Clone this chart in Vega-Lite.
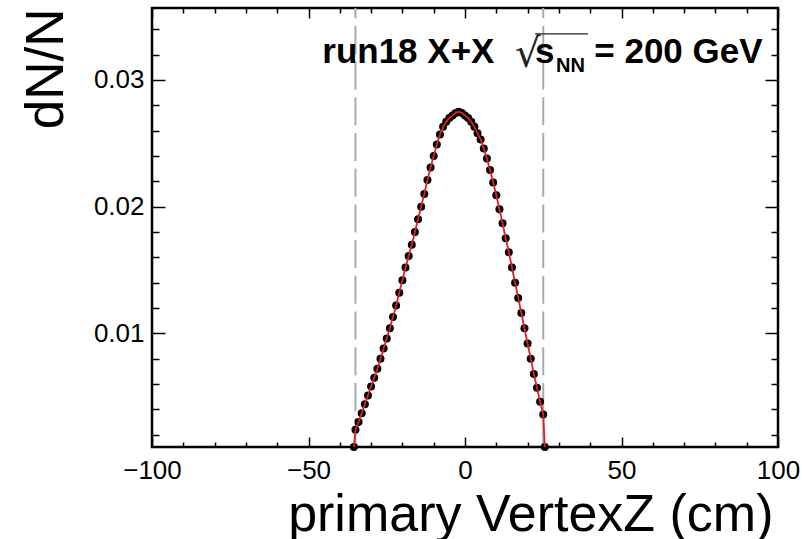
{
  "$schema": "https://vega.github.io/schema/vega-lite/v6.json",
  "width": 626,
  "height": 439,
  "autosize": {"type": "none"},
  "padding": {"left": 152, "top": 8, "right": 24, "bottom": 92},
  "background": "white",
  "config": {"view": {"stroke": "black", "strokeWidth": 2.5}, "font": "Liberation Sans"},
  "datasets": {
    "vz": [
      {"z": -35.5, "n": 0.00103},
      {"z": -35, "n": 0.0024}, {"z": -34, "n": 0.0030}, {"z": -33, "n": 0.0037}, {"z": -32, "n": 0.0044},
      {"z": -31, "n": 0.0051}, {"z": -30, "n": 0.0058}, {"z": -29, "n": 0.0065}, {"z": -28, "n": 0.0072},
      {"z": -27, "n": 0.0080}, {"z": -26, "n": 0.0088}, {"z": -25, "n": 0.0096}, {"z": -24, "n": 0.0104},
      {"z": -23, "n": 0.0113}, {"z": -22, "n": 0.0122}, {"z": -21, "n": 0.0132}, {"z": -20, "n": 0.0142},
      {"z": -19, "n": 0.0152}, {"z": -18, "n": 0.0161}, {"z": -17, "n": 0.0170}, {"z": -16, "n": 0.0180},
      {"z": -15, "n": 0.0190}, {"z": -14, "n": 0.0200}, {"z": -13, "n": 0.0210}, {"z": -12, "n": 0.0221},
      {"z": -11, "n": 0.0231}, {"z": -10, "n": 0.0240}, {"z": -9, "n": 0.0249}, {"z": -8, "n": 0.0257},
      {"z": -7, "n": 0.0263}, {"z": -6, "n": 0.0267}, {"z": -5, "n": 0.0270}, {"z": -4, "n": 0.0272},
      {"z": -3, "n": 0.0274}, {"z": -2, "n": 0.0275}, {"z": -1, "n": 0.0274}, {"z": 0, "n": 0.0272},
      {"z": 1, "n": 0.0270}, {"z": 2, "n": 0.0267}, {"z": 3, "n": 0.0263}, {"z": 4, "n": 0.0258},
      {"z": 5, "n": 0.0253}, {"z": 6, "n": 0.0246}, {"z": 7, "n": 0.0238}, {"z": 8, "n": 0.0229},
      {"z": 9, "n": 0.0219}, {"z": 10, "n": 0.0209}, {"z": 11, "n": 0.0198}, {"z": 12, "n": 0.0187},
      {"z": 13, "n": 0.0175}, {"z": 14, "n": 0.0164}, {"z": 15, "n": 0.0152}, {"z": 16, "n": 0.0140},
      {"z": 17, "n": 0.0128}, {"z": 18, "n": 0.0116}, {"z": 19, "n": 0.0104}, {"z": 20, "n": 0.0092},
      {"z": 21, "n": 0.0080}, {"z": 22, "n": 0.0068}, {"z": 23, "n": 0.0057}, {"z": 24, "n": 0.0046},
      {"z": 25, "n": 0.0036},
      {"z": 25.5, "n": 0.00103}
    ],
    "cuts": [{"cut": -35}, {"cut": 25}],
    "one": [{}]
  },
  "layer": [
    {
      "data": {"name": "cuts"},
      "mark": {"type": "rule", "color": "#aaaaaa", "strokeWidth": 2, "strokeDash": [28, 7.7], "strokeDashOffset": 17.8},
      "encoding": {
        "x": {"field": "cut", "type": "quantitative", "scale": {"domain": [-100, 100], "nice": false, "zero": false}, "axis": null}
      }
    },
    {
      "data": {"name": "vz"},
      "mark": {"type": "circle", "color": "black", "opacity": 1, "size": 64},
      "encoding": {
        "x": {
          "field": "z", "type": "quantitative",
          "scale": {"domain": [-100, 100], "nice": false, "zero": false},
          "axis": {
            "orient": "bottom",
            "values": [-100, -90, -80, -70, -60, -50, -40, -30, -20, -10, 0, 10, 20, 30, 40, 50, 60, 70, 80, 90, 100],
            "tickSize": {"condition": {"test": "datum.value % 50 === 0", "value": -10}, "value": -5},
            "labelExpr": "datum.value % 50 === 0 ? datum.label : ''",
            "labelFontSize": 26, "labelPadding": 20, "labelColor": "black", "labelFlush": false, "labelOverlap": false,
            "tickColor": "black", "tickWidth": 1.5, "domain": false, "grid": false,
            "title": "primary VertexZ (cm)", "titleFontSize": 52, "titleFontWeight": "normal", "titleColor": "black",
            "titleAnchor": "end", "titleAlign": "right", "titleX": 621, "titleY": 83, "titleBaseline": "alphabetic"
          }
        },
        "y": {
          "field": "n", "type": "quantitative",
          "scale": {"domain": [0.00103, 0.03568], "nice": false, "zero": false},
          "axis": {
            "orient": "left",
            "values": [0.002, 0.004, 0.006, 0.008, 0.01, 0.012, 0.014, 0.016, 0.018, 0.02, 0.022, 0.024, 0.026, 0.028, 0.03, 0.032, 0.034],
            "tickSize": {"condition": {"test": "abs(datum.value*100-round(datum.value*100)) < 1e-6", "value": -13}, "value": -7},
            "labelExpr": "abs(datum.value*100-round(datum.value*100)) < 1e-6 ? format(datum.value, '.2f') : ''",
            "labelFontSize": 26, "labelPadding": 21, "labelColor": "black", "labelOverlap": false, "labelFlush": false,
            "tickColor": "black", "tickWidth": 1.5, "domain": false, "grid": false,
            "title": "dN/N", "titleFontSize": 53, "titleFontWeight": "normal", "titleColor": "black",
            "titleAngle": -90, "titleAlign": "right", "titleBaseline": "alphabetic", "titleX": -90, "titleY": 0
          }
        }
      }
    },
    {
      "data": {"name": "vz"},
      "mark": {"type": "line", "color": "#dd2222", "strokeWidth": 1.8},
      "encoding": {
        "x": {
          "field": "z", "type": "quantitative",
          "scale": {"domain": [-100, 100], "nice": false, "zero": false},
          "axis": {
            "orient": "top",
            "values": [-100, -90, -80, -70, -60, -50, -40, -30, -20, -10, 0, 10, 20, 30, 40, 50, 60, 70, 80, 90, 100],
            "tickSize": {"condition": {"test": "datum.value % 50 === 0", "value": -10}, "value": -5},
            "labels": false, "tickColor": "black", "tickWidth": 1.5, "domain": false, "grid": false, "title": null
          }
        },
        "y": {
          "field": "n", "type": "quantitative",
          "scale": {"domain": [0.00103, 0.03568], "nice": false, "zero": false},
          "axis": {
            "orient": "right",
            "values": [0.002, 0.004, 0.006, 0.008, 0.01, 0.012, 0.014, 0.016, 0.018, 0.02, 0.022, 0.024, 0.026, 0.028, 0.03, 0.032, 0.034],
            "tickSize": {"condition": {"test": "abs(datum.value*100-round(datum.value*100)) < 1e-6", "value": -13}, "value": -7},
            "labels": false, "tickColor": "black", "tickWidth": 1.5, "domain": false, "grid": false, "title": null
          }
        }
      }
    },
    {
      "data": {"name": "one"},
      "mark": {"type": "text", "text": "run18 X+X", "fontSize": 35, "fontWeight": "bold", "align": "left", "baseline": "alphabetic", "color": "black"},
      "encoding": {
        "x": {"datum": -45.6, "type": "quantitative", "scale": {"domain": [-100, 100], "nice": false, "zero": false}, "axis": null},
        "y": {"datum": 0.03134, "type": "quantitative", "scale": {"domain": [0.00103, 0.03568], "nice": false, "zero": false}, "axis": null}
      }
    },
    {
      "data": {"name": "one"},
      "mark": {"type": "text", "text": "√", "font": "DejaVu Sans", "fontSize": 40, "fontWeight": "normal", "align": "left", "baseline": "alphabetic", "color": "#222222"},
      "encoding": {
        "x": {"datum": 16.0, "type": "quantitative", "scale": {"domain": [-100, 100], "nice": false, "zero": false}, "axis": null},
        "y": {"datum": 0.03103, "type": "quantitative", "scale": {"domain": [0.00103, 0.03568], "nice": false, "zero": false}, "axis": null}
      }
    },
    {
      "data": {"name": "one"},
      "mark": {"type": "rule", "color": "#222222", "strokeWidth": 1.3},
      "encoding": {
        "x": {"datum": 22.4, "type": "quantitative", "scale": {"domain": [-100, 100], "nice": false, "zero": false}, "axis": null},
        "x2": {"datum": 39.3},
        "y": {"datum": 0.03363, "type": "quantitative", "scale": {"domain": [0.00103, 0.03568], "nice": false, "zero": false}, "axis": null}
      }
    },
    {
      "data": {"name": "one"},
      "mark": {"type": "text", "text": "s", "fontSize": 35, "fontWeight": "bold", "align": "left", "baseline": "alphabetic", "color": "black"},
      "encoding": {
        "x": {"datum": 22.4, "type": "quantitative", "scale": {"domain": [-100, 100], "nice": false, "zero": false}, "axis": null},
        "y": {"datum": 0.03134, "type": "quantitative", "scale": {"domain": [0.00103, 0.03568], "nice": false, "zero": false}, "axis": null}
      }
    },
    {
      "data": {"name": "one"},
      "mark": {"type": "text", "text": "NN", "fontSize": 20, "fontWeight": "bold", "align": "left", "baseline": "alphabetic", "color": "black"},
      "encoding": {
        "x": {"datum": 29.1, "type": "quantitative", "scale": {"domain": [-100, 100], "nice": false, "zero": false}, "axis": null},
        "y": {"datum": 0.03063, "type": "quantitative", "scale": {"domain": [0.00103, 0.03568], "nice": false, "zero": false}, "axis": null}
      }
    },
    {
      "data": {"name": "one"},
      "mark": {"type": "text", "text": "= 200 GeV", "fontSize": 35, "fontWeight": "bold", "align": "left", "baseline": "alphabetic", "color": "black"},
      "encoding": {
        "x": {"datum": 41.3, "type": "quantitative", "scale": {"domain": [-100, 100], "nice": false, "zero": false}, "axis": null},
        "y": {"datum": 0.03134, "type": "quantitative", "scale": {"domain": [0.00103, 0.03568], "nice": false, "zero": false}, "axis": null}
      }
    }
  ]
}
